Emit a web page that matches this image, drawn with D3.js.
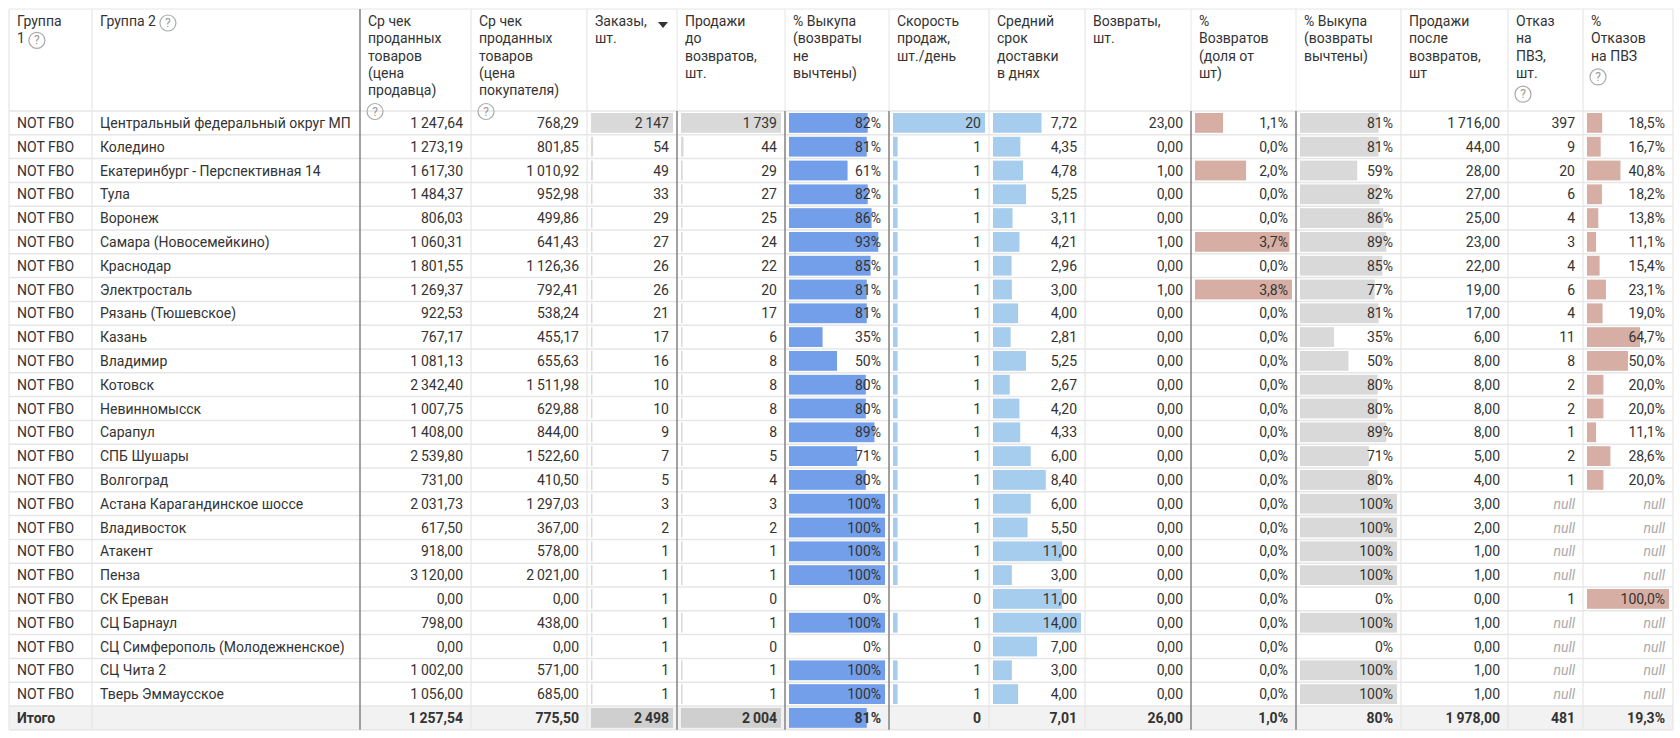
<!DOCTYPE html>
<html><head><meta charset="utf-8">
<script src="https://cdn.jsdelivr.net/npm/d3@7"></script>
<style>body{margin:0;background:#fff;font-family:Roboto,"Noto Sans",sans-serif;}</style>
</head><body>
<script>
var names = ["Центральный федеральный округ МП","Коледино","Екатеринбург - Перспективная 14","Тула","Воронеж","Самара (Новосемейкино)","Краснодар","Электросталь","Рязань (Тюшевское)","Казань","Владимир","Котовск","Невинномысск","Сарапул","СПБ Шушары","Волгоград","Астана Карагандинское шоссе","Владивосток","Атакент","Пенза","СК Ереван","СЦ Барнаул","СЦ Симферополь (Молодежненское)","СЦ Чита 2","Тверь Эммаусское"];
var sellerCheck = [1247.64,1273.19,1617.30,1484.37,806.03,1060.31,1801.55,1269.37,922.53,767.17,1081.13,2342.40,1007.75,1408.00,2539.80,731.00,2031.73,617.50,918.00,3120.00,0,798.00,0,1002.00,1056.00];
var buyerCheck = [768.29,801.85,1010.92,952.98,499.86,641.43,1126.36,792.41,538.24,455.17,655.63,1511.98,629.88,844.00,1522.60,410.50,1297.03,367.00,578.00,2021.00,0,438.00,0,571.00,685.00];
var orders = [2147,54,49,33,29,27,26,26,21,17,16,10,10,9,7,5,3,2,1,1,1,1,1,1,1];
var salesBefore = [1739,44,29,27,25,24,22,20,17,6,8,8,8,8,5,4,3,2,1,1,0,1,0,1,1];
var buyout1 = [0.82,0.81,0.61,0.82,0.86,0.93,0.85,0.81,0.81,0.35,0.50,0.80,0.80,0.89,0.71,0.80,1,1,1,1,0,1,0,1,1];
var speed = [20,1,1,1,1,1,1,1,1,1,1,1,1,1,1,1,1,1,1,1,0,1,0,1,1];
var delivery = [7.72,4.35,4.78,5.25,3.11,4.21,2.96,3.00,4.00,2.81,5.25,2.67,4.20,4.33,6.00,8.40,6.00,5.50,11.00,3.00,11.00,14.00,7.00,3.00,4.00];
var returns = [23,0,1,0,0,1,0,1,0,0,0,0,0,0,0,0,0,0,0,0,0,0,0,0,0];
var returnPct = [0.011,0,0.020,0,0,0.037,0,0.038,0,0,0,0,0,0,0,0,0,0,0,0,0,0,0,0,0];
var buyout2 = [0.81,0.81,0.59,0.82,0.86,0.89,0.85,0.77,0.81,0.35,0.50,0.80,0.80,0.89,0.71,0.80,1,1,1,1,0,1,0,1,1];
var salesAfter = [1716,44,28,27,25,23,22,19,17,6,8,8,8,8,5,4,3,2,1,1,0,1,0,1,1];
var refusals = [397,9,20,6,4,3,4,6,4,11,8,2,2,1,2,1,null,null,null,null,1,null,null,null,null];
var refusalPct = [0.185,0.167,0.408,0.182,0.138,0.111,0.154,0.231,0.190,0.647,0.500,0.200,0.200,0.111,0.286,0.200,null,null,null,null,1.0,null,null,null,null];
var totals = ["Итого","",1257.54,775.50,2498,2004,0.81,0,7.01,26,0.010,0.80,1978,481,0.193];

var headers = [["Группа","1 ?"],["Группа 2 ?"],["Ср чек","проданных","товаров","(цена","продавца)","?"],["Ср чек","проданных","товаров","(цена","покупателя)","?"],["Заказы,","шт."],["Продажи","до","возвратов,","шт."],["% Выкупа","(возвраты","не","вычтены)"],["Скорость","продаж,","шт./день"],["Средний","срок","доставки","в днях"],["Возвраты,","шт."],["%","Возвратов","(доля от","шт)"],["% Выкупа","(возвраты","вычтены)"],["Продажи","после","возвратов,","шт"],["Отказ","на","ПВЗ,","шт.","?"],["%","Отказов","на ПВЗ","?"]];

var loc = d3.formatLocale({decimal:",",thousands:"\u2009",grouping:[3],currency:["",""]});
var f2 = loc.format(",.2f"), f0 = loc.format(",.0f"), p0 = loc.format(".0%"), p1 = loc.format(".1%");
var fmts = [null,null,f2,f2,f0,f0,p0,f0,f2,f2,p1,p0,f2,f0,p1];
var cols = [null,names,sellerCheck,buyerCheck,orders,salesBefore,buyout1,speed,delivery,returns,returnPct,buyout2,salesAfter,refusals,refusalPct];
var barColor = {4:"#d9d9d9",5:"#d9d9d9",6:"#739fea",7:"#a6cdee",8:"#a6cdee",10:"#d6aea4",11:"#d9d9d9",14:"#d6aea4"};
var fixedMax = {6:1,11:1};

var W = 1680, H = 738;
var xs = [9,92,360,471,587,677,785,889,989,1085,1191,1296,1401,1508,1583,1673];
var headTop = 9, headBot = 111, rowH = 23.8;
var nRows = names.length;
var y = d3.scaleBand().domain(d3.range(nRows+1)).range([headBot, headBot + rowH*(nRows+1)]);

var svg = d3.select("body").append("svg").attr("width",W).attr("height",H)
  .style("font-family","Roboto, 'Noto Sans', sans-serif").style("font-size","14px");

svg.append("rect").attr("x",xs[0]).attr("y",y(nRows)).attr("width",xs[15]-xs[0]).attr("height",y.bandwidth()).attr("fill","#f2f2f2");

// bars
var pad = 4;
Object.keys(barColor).forEach(function(k){
  k = +k;
  var vals = cols[k];
  var bx = d3.scaleLinear().domain([0, fixedMax[k] || d3.max(vals)]).range([xs[k]+pad, xs[k+1]-pad]).clamp(true);
  var g = svg.append("g");
  g.selectAll("rect").data(vals.map(function(v,i){return {v:v,i:i};}).filter(function(d){return d.v!=null && d.v>0;}))
    .enter().append("rect")
    .attr("x",bx(0)).attr("y",function(d){return y(d.i)+2;})
    .attr("width",function(d){return Math.max(1.5,bx(d.v)-bx(0));})
    .attr("height",y.bandwidth()-4).attr("fill",barColor[k]);
  if (k===4||k===5||k===6) {
    var tv = totals[k];
    g.append("rect").attr("x",bx(0)).attr("y",y(nRows)+2).attr("width",bx(Math.min(tv,bx.domain()[1]))-bx(0))
      .attr("height",y.bandwidth()-4).attr("fill",k===6?barColor[k]:"#cfcfcf");
  }
});

// grid lines
svg.append("line").attr("x1",xs[0]).attr("x2",xs[15]).attr("y1",headTop).attr("y2",headTop).attr("stroke","#e6e6e6");
svg.selectAll(".hl").data(d3.range(nRows+2)).enter().append("line")
  .attr("x1",xs[0]).attr("x2",xs[15])
  .attr("y1",function(i){return headBot + i*rowH;}).attr("y2",function(i){return headBot + i*rowH;})
  .attr("stroke","#e6e6e6").attr("stroke-width",1.5);
var dark = [2,5,6,7,10,11];
svg.selectAll(".vl").data(xs).enter().append("line")
  .attr("x1",function(d){return d;}).attr("x2",function(d){return d;})
  .attr("y1",function(d,i){return i===2 ? headTop : (dark.indexOf(i)>=0 ? headBot : headTop);})
  .attr("y2",headBot + rowH*(nRows+1))
  .attr("stroke",function(d,i){return dark.indexOf(i)>=0 ? "#8a8a8a" : "#e6e6e6";})
  .attr("stroke-width",function(d,i){return dark.indexOf(i)>=0 ? 1.6 : 1.2;});
dark.forEach(function(i){ if(i!==2) svg.append("line").attr("x1",xs[i]).attr("x2",xs[i]).attr("y1",headTop).attr("y2",headBot).attr("stroke","#e6e6e6"); });

// header text
function qmark(x, yy){
  svg.append("circle").attr("cx",x+8).attr("cy",yy-5).attr("r",8).attr("fill","none").attr("stroke","#aaa").attr("stroke-width",1.2);
  svg.append("text").attr("x",x+8).attr("y",yy-1).attr("text-anchor","middle").attr("fill","#999").style("font-size","12px").text("?");
}
headers.forEach(function(lines,c){
  lines.forEach(function(l,j){
    var ty = 26 + j*17.3, tx = xs[c]+8;
    if (l === "?") { qmark(tx-1, ty+4); return; }
    var m = l.match(/^(.*) \?$/);
    var t = svg.append("text").attr("x",tx).attr("y",ty).attr("fill","#333").text(m ? m[1] : l);
    if (m) qmark(tx + t.node().getComputedTextLength() + 4, ty+2);
  });
});
svg.append("path").attr("d","M"+(xs[5]-19)+",22 l10,0 l-5,6 z").attr("fill","#333");

// cells
for (var r=0;r<nRows;r++){
  var cy = y(r) + y.bandwidth()/2 + 5;
  svg.append("text").attr("x",xs[0]+8).attr("y",cy).attr("fill","#333").text("NOT FBO");
  svg.append("text").attr("x",xs[1]+8).attr("y",cy).attr("fill","#333").text(names[r]);
  for (var c=2;c<15;c++){
    var v = cols[c][r];
    var t = svg.append("text").attr("x",xs[c+1]-8).attr("y",cy).attr("text-anchor","end");
    if (v==null) t.attr("fill","#aaa").style("font-style","italic").text("null");
    else t.attr("fill","#333").text(fmts[c](v));
  }
}
var ty2 = y(nRows) + y.bandwidth()/2 + 5;
svg.append("text").attr("x",xs[0]+8).attr("y",ty2).attr("fill","#333").style("font-weight","bold").text(totals[0]);
for (var c2=2;c2<15;c2++){
  svg.append("text").attr("x",xs[c2+1]-8).attr("y",ty2).attr("text-anchor","end").attr("fill","#333")
    .style("font-weight","bold").text(fmts[c2](totals[c2]));
}
</script>
</body></html>
